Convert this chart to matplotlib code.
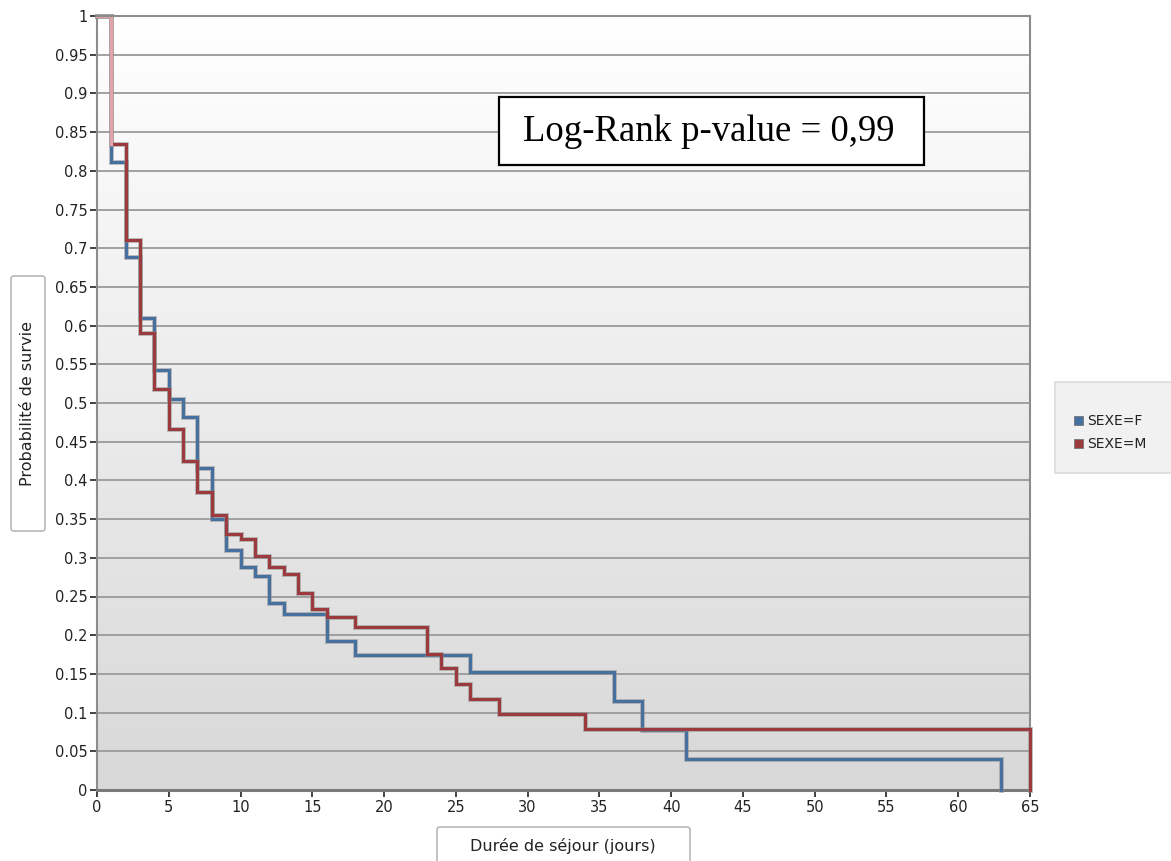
import numpy as np
import matplotlib
matplotlib.use("Agg")
import matplotlib.pyplot as plt
import matplotlib.patheffects as pe
from matplotlib.patches import Rectangle, FancyBboxPatch

# ---- data ----
f_label = "SEXE=F"
f_times = [0, 1, 2, 3, 4, 5, 6, 7, 8, 9, 10, 11, 12, 13, 16, 18, 26, 36, 38, 41, 63]
f_surv = [1, 0.812, 0.689, 0.610, 0.543, 0.505, 0.482, 0.416, 0.350, 0.310, 0.288,
          0.276, 0.241, 0.228, 0.192, 0.175, 0.153, 0.115, 0.078, 0.040, 0]

m_label = "SEXE=M"
m_times = [0, 1, 2, 3, 4, 5, 6, 7, 8, 9, 10, 11, 12, 13, 14, 15, 16, 18, 23, 24, 25,
           26, 28, 34, 65]
m_surv = [1, 0.834, 0.711, 0.590, 0.518, 0.466, 0.425, 0.385, 0.355, 0.331, 0.324,
          0.302, 0.288, 0.279, 0.254, 0.234, 0.223, 0.210, 0.176, 0.157, 0.137,
          0.117, 0.098, 0.079, 0]

x_ticks = list(range(0, 66, 5))
y_ticks = [round(v, 2) for v in np.arange(0, 1.0001, 0.05)]

title_box = "Log-Rank p-value = 0,99"
x_label = "Durée de séjour (jours)"
y_label = "Probabilité de survie"

# ---- figure ----
W, H = 1171, 861
fig = plt.figure(figsize=(W / 100, H / 100), dpi=100)
fig.patch.set_facecolor("white")

def fx(px):
    return px / W

def fy(py):
    return 1 - py / H

ax = fig.add_axes([fx(97), fy(790), fx(1030) - fx(97), fy(16) - fy(790)])
ax.set_xlim(0, 65)
ax.set_ylim(0, 1)

# gradient background
grad = np.linspace(0, 1, 256).reshape(-1, 1)
cmap = matplotlib.colors.LinearSegmentedColormap.from_list("bg", ["#d8d8d8", "#ffffff"])
ax.imshow(grad, extent=[0, 65, 0, 1], origin="lower", aspect="auto", cmap=cmap,
          zorder=0, interpolation="bicubic")

# horizontal grid
for v in y_ticks[1:]:
    ax.axhline(v, color="#9a9a9a", lw=1.3, zorder=1)

# curves
blue = "#46709f"
red = "#9c3b3f"
effects = [pe.Stroke(linewidth=3.6, foreground="#8a8a8a", alpha=0.5), pe.Normal()]
ax.step(f_times, f_surv, where="post", color=blue, lw=2.2, zorder=3,
        path_effects=effects, label=f_label, solid_joinstyle="miter", clip_on=False)
ax.step(m_times, m_surv, where="post", color=red, lw=2.2, zorder=4,
        path_effects=effects, label=m_label, solid_joinstyle="miter", clip_on=False)
# lighter first segment of the curves (drawn from the data)
ax.plot([m_times[0], m_times[1], m_times[1]], [m_surv[0], m_surv[0], m_surv[1]],
        color="#e3a3aa", lw=2.4, zorder=5, clip_on=False)

# ticks
ax.set_xticks(x_ticks)
ax.set_xticklabels([str(t) for t in x_ticks])
ax.set_yticks(y_ticks)
ax.set_yticklabels([f"{v:g}" for v in y_ticks])
ax.tick_params(axis="both", direction="out", length=5, width=1.3, color="#333333",
               labelsize=10.5, labelcolor="#222222", pad=2)

for side in ["left", "right", "top"]:
    ax.spines[side].set_color("#8c8c8c")
    ax.spines[side].set_linewidth(1.5)
ax.spines["top"].set_zorder(6)
ax.spines["bottom"].set_color("#7a7a7a")
ax.spines["bottom"].set_linewidth(2.2)

# log-rank text box
fig.patches.append(Rectangle((fx(499), fy(165)), fx(924) - fx(499), fy(97) - fy(165),
                             transform=fig.transFigure, facecolor="white",
                             edgecolor="black", lw=1.6, zorder=10))
fig.text(fx(709), fy(132), title_box, ha="center", va="center",
         fontsize=26.5, family="Liberation Serif", color="black", zorder=11)

# y label box
fig.patches.append(FancyBboxPatch((fx(11), fy(531)), fx(45) - fx(11), fy(276) - fy(531),
                                  boxstyle="round,pad=0,rounding_size=0.003",
                                  transform=fig.transFigure, facecolor="white",
                                  edgecolor="#b8b8b8", lw=1.2))
fig.text(fx(28), fy(404), y_label, rotation=90, ha="center", va="center",
         fontsize=11.5, color="#222222")

# x label box
fig.patches.append(FancyBboxPatch((fx(437), fy(866)), fx(690) - fx(437), fy(827) - fy(866),
                                  boxstyle="round,pad=0,rounding_size=0.003",
                                  transform=fig.transFigure, facecolor="white",
                                  edgecolor="#b8b8b8", lw=1.2))
fig.text(fx(563), fy(846), x_label, ha="center", va="center", fontsize=11.5, color="#222222")

# legend box
fig.patches.append(Rectangle((fx(1055), fy(473)), fx(1175) - fx(1055), fy(382) - fy(473),
                             transform=fig.transFigure, facecolor="#f1f1f1",
                             edgecolor="#dcdcdc", lw=1.2))
for yy, col, lab in [(421, blue, f_label), (444, red, m_label)]:
    fig.patches.append(Rectangle((fx(1074), fy(yy + 4)), fx(9), fx(9) * W / H,
                                 transform=fig.transFigure, facecolor=col,
                                 edgecolor="#777777", lw=0.6))
    fig.text(fx(1087), fy(yy), lab, ha="left", va="center", fontsize=10, color="#222222")

fig.savefig("out.png", dpi=100)
